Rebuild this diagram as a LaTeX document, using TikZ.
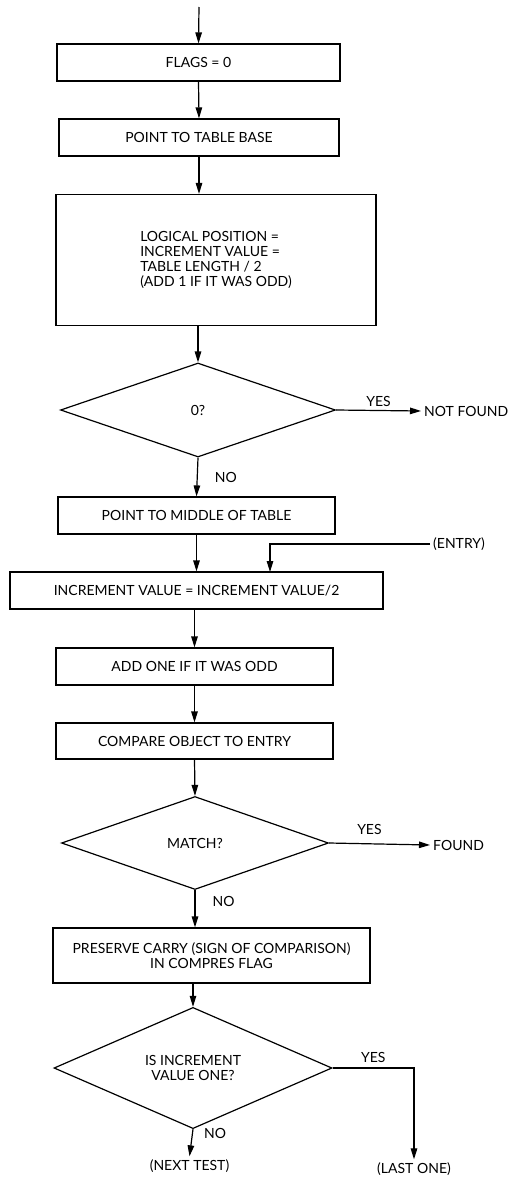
\documentclass[tikz,border=0pt]{standalone}
\usepackage{fontspec}
\setmainfont{Lato}
\usetikzlibrary{arrows.meta,shapes.geometric}

\begin{document}
\begin{tikzpicture}[x=1pt, y=-1pt, >={Triangle[length=11pt,width=6.5pt]},
  font=\fontsize{14}{15}\selectfont,
  box/.style={draw, line width=1.2pt, inner sep=0pt, minimum height=37pt},
  dec/.style={draw, diamond, line width=1.2pt, inner sep=0pt, align=center},
  flow/.style={->, line width=1.2pt},
  lbl/.style={inner sep=3pt}]

\useasboundingbox (0,0) rectangle (522,1181);

% Entry point
\coordinate (in) at (199,7);

% Set up
\node[box, minimum width=283pt] (flags) at (198.5,62.5) {FLAGS = 0};
\node[box, minimum width=280pt] (base) at (199,137.5) {POINT TO TABLE BASE};
\node[box, minimum width=320pt, minimum height=131pt, align=left] (len) at (216,260)
  {LOGICAL POSITION =\\INCREMENT VALUE =\\TABLE LENGTH / 2\\(ADD 1 IF IT WAS ODD)};

% Empty table test
\node[dec, minimum width=275pt, minimum height=94pt] (zero) at (198,410) {0?};
\node[lbl, anchor=west] (notfound) at (421,411) {NOT FOUND};

% Search loop
\node[box, minimum width=277pt] (mid) at (196.5,515.5) {POINT TO MIDDLE OF TABLE};
\node[box, minimum width=373pt] (incr) at (196.5,590.5) {INCREMENT VALUE = INCREMENT VALUE/2};
\node[lbl, anchor=west] (entry) at (430,544) {(ENTRY)};
\coordinate (entryin) at (270,572);
\node[box, minimum width=277pt] (odd) at (194.5,666.5) {ADD ONE IF IT WAS ODD};
\node[box, minimum width=277pt, minimum height=36pt] (cmp) at (194.5,741) {COMPARE OBJECT TO ENTRY};

% Match test
\node[dec, minimum width=267pt, minimum height=93pt] (match) at (195,843) {MATCH?};
\node[lbl, anchor=west] (found) at (430,845) {FOUND};

\node[box, minimum width=317pt, minimum height=55pt, align=center] (carry) at (211.5,955.5)
  {PRESERVE CARRY (SIGN OF COMPARISON)\\IN COMPRES FLAG};

% Last step test
\node[dec, minimum width=278pt, minimum height=96pt] (one) at (193,1068) {IS INCREMENT\\VALUE ONE?};
\node[lbl] (next) at (189.5,1166) {(NEXT TEST)};
\node[lbl] (last) at (414,1169) {(LAST ONE)};

% Connectors
\draw[flow] (in) -- (flags.north);
\draw[flow] (flags.south) -- (base.north);
\draw[flow] (base.south) -- (base.south |- len.north);
\draw[flow] (len.south -| zero.north) -- (zero.north);
\draw[flow] (zero.east) -- (notfound.west) node[lbl, pos=0.5, above=0pt] {YES};
\draw[flow] (zero.south) -- (mid.north) node[lbl, pos=0.5, right=14pt] {NO};
\draw[flow] (mid.south) -- (mid.south |- incr.north);
\draw[flow] (entry.west) -| (entryin);
\draw[flow] (incr.south -| odd.north) -- (odd.north);
\draw[flow] (odd.south) -- (cmp.north);
\draw[flow] (cmp.south) -- (match.north);
\draw[flow] (match.east) -- (found.west) node[lbl, pos=0.4, above=6pt] {YES};
\draw[flow] (match.south) -- (match.south |- carry.north) node[lbl, pos=0.3, right=14pt] {NO};
\draw[flow] (carry.south -| one.north) -- (one.north);
\draw[flow] (one.south) -- (next.north) node[lbl, pos=0.15, right=8pt] {NO};
\draw[flow] (one.east) -| (last.north) node[lbl, pos=0.25, above=2pt] {YES};

\end{tikzpicture}
\end{document}
